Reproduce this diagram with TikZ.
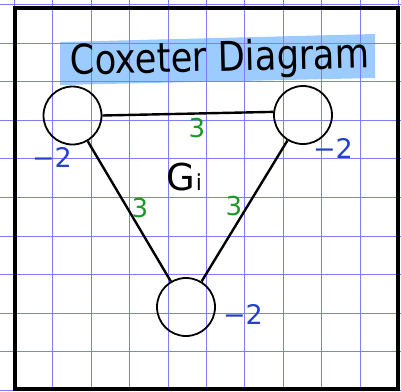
\documentclass[tikz,border=0pt]{standalone}
\usepackage{fontspec}
\setsansfont{DejaVu Sans}
\definecolor{gridblue}{RGB}{125,125,250}
\definecolor{hlblue}{RGB}{150,200,255}
\definecolor{labgreen}{RGB}{30,150,40}
\definecolor{labblue}{RGB}{35,65,205}
\begin{document}
\begin{tikzpicture}[x=1pt,y=-1pt,
  gridline/.style={draw=gridblue,line width=1.1pt},
  vertex/.style={circle,draw=black,line width=1.8pt,minimum size=58pt,inner sep=0pt},
  bond/.style={draw=black,line width=2.4pt},
  weight/.style={text=labgreen,font=\sffamily\fontsize{26}{26}\selectfont,inner sep=0pt},
  selfw/.style={text=labblue,font=\sffamily\fontsize{27}{27}\selectfont,inner sep=0pt},
  title/.style={font=\sffamily\fontsize{41}{41}\selectfont,inner sep=0pt}]
\useasboundingbox (0,0) rectangle (401,391);
% highlight
\fill[hlblue,opacity=0.95] (60,42) -- (375,34) -- (375,78) -- (60,85) -- cycle;
% grid
\foreach \k in {0,...,10} {
  \draw[gridline] ({14.5+38.4*\k},0) -- ({14.5+38.4*\k},391);
  \draw[gridline] (0,{4.5+38.6*\k}) -- (401,{4.5+38.6*\k});
}
% border
\draw[black,line width=4pt] (15.3,7.5) rectangle (398,389);
% title
\node[title,rotate=1.4,xscale=0.86] (t) at (220,60) {Coxeter Diagram};
% vertices
\node[vertex] (a) at (72.5,115.5) {};
\node[vertex] (b) at (303,115) {};
\node[vertex] (c) at (186,307) {};
% bonds
\draw[bond] (a.east) -- (b.174);
\draw[bond] (a) -- (c);
\draw[bond] (b) -- (c);
% labels
\node[weight] (w1) at (197,128) {3};
\node[weight] (w2) at (140,208) {3};
\node[weight] (w3) at (234,206) {3};
\node[font=\sffamily\fontsize{37}{37}\selectfont,inner sep=0pt,anchor=base west] (g) at (166,190) {G\kern1pt{\fontsize{22}{22}\selectfont i}};
\node[selfw] (s1) at (52,157) {−2};
\node[selfw] (s2) at (333,148) {−2};
\node[selfw] (s3) at (243,314) {−2};
\end{tikzpicture}
\end{document}
